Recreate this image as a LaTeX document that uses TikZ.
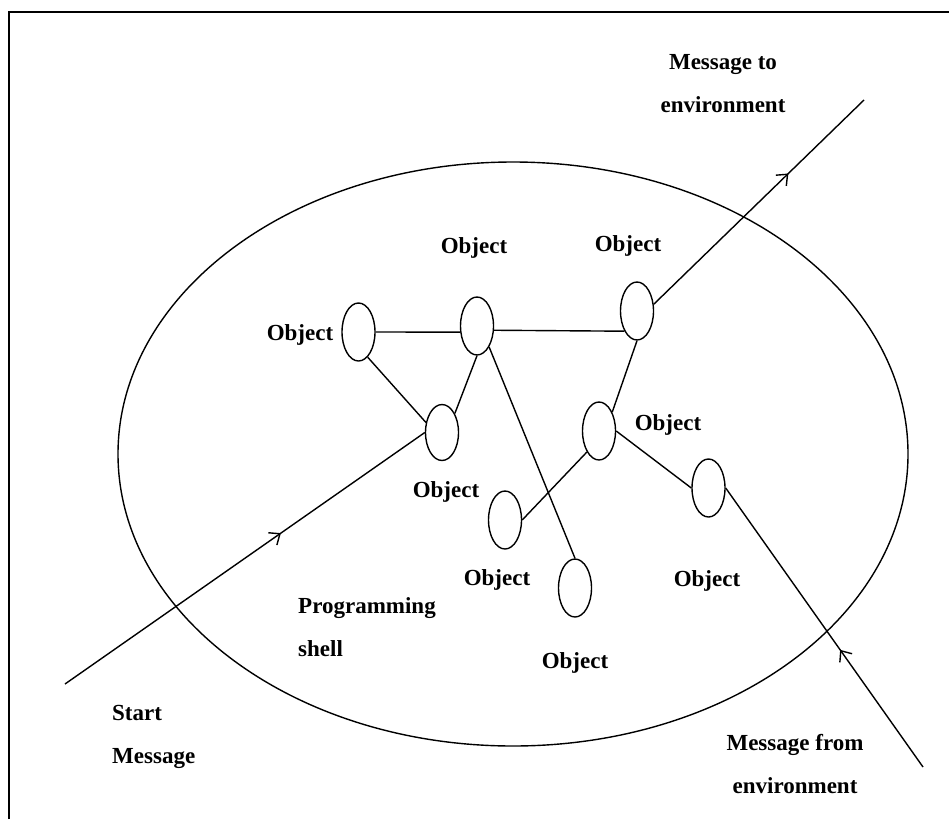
\documentclass[tikz,border=0pt]{standalone}
\usepackage{fontspec}
\setmainfont{Liberation Serif}
\usetikzlibrary{shapes.geometric,arrows.meta,decorations.markings}

\begin{document}
\begin{tikzpicture}[x=1pt,y=-1pt,
  wire/.style={line width=1.4pt, black},
  obj/.style={draw, ellipse, line width=1.4pt, minimum width=33pt,
    minimum height=58pt, inner sep=0pt},
  lbl/.style={font=\bfseries\fontsize{23}{43}\selectfont, inner sep=0pt},
  midarrow/.style={postaction={decorate},
    decoration={markings, mark=at position #1 with
      {\arrow{Straight Barb[length=9pt,width=15pt,line width=1.4pt]}}}},
]
\useasboundingbox (0,0) rectangle (949,819);

% frame (top and left edges)
\draw[line width=2pt] (9,819) -- (9,12) -- (949,12);

% programming shell
\node[draw, ellipse, line width=1.4pt, minimum width=790pt,
  minimum height=584pt, inner sep=0pt] (shell) at (513,454) {};

% objects
\node[obj] (o1) at (358.5,332) {};
\node[obj] (o2) at (477,326) {};
\node[obj, minimum height=56pt] (o3) at (442,432.5) {};
\node[obj] (o4) at (637,311) {};
\node[obj] (o5) at (599,431) {};
\node[obj] (o6) at (708.5,488) {};
\node[obj] (o7) at (505,520) {};
\node[obj] (o8) at (575,588) {};

% free ends of the message lines
\coordinate (startpt) at (65,684);
\coordinate (toenv) at (864,100);
\coordinate (fromenv) at (923,767);

% links between objects
\draw[wire] (o1.east) -- (o2.200);
\draw[wire] (o2.-14) -- (o4.238);
\draw[wire] (o1.-70) -- (o3.148);
\draw[wire] (o3.56) -- (o2.south);
\draw[wire] (o2.-60) -- (o8.north);
\draw[wire] (o4.south) -- (o5.55);
\draw[wire] (o5.240) -- (o7.east);
\draw[wire] (o5.east) -- (o6.west);

% messages
\draw[wire, midarrow=0.6] (startpt) -- (o3.west);
\draw[wire, midarrow=0.64] (o4.22) -- (toenv);
\draw[wire, midarrow=0.42] (fromenv) -- (o6.east);

% labels (single line: anchored on the baseline)
\node[lbl, anchor=base] (l1) at (300,340) {Object};
\node[lbl, anchor=base] (l2) at (474,253) {Object};
\node[lbl, anchor=base] (l3) at (628,251) {Object};
\node[lbl, anchor=base] (l4) at (446,497) {Object};
\node[lbl, anchor=base] (l5) at (668,430) {Object};
\node[lbl, anchor=base] (l6) at (497,585) {Object};
\node[lbl, anchor=base] (l7) at (707,586) {Object};
\node[lbl, anchor=base] (l8) at (575,668) {Object};

% two-line labels (anchored on the baseline of the last line)
\node[lbl, anchor=base, align=center] (tolbl) at (723,112) {Message to\\environment};
\node[lbl, anchor=base, align=center] (fromlbl) at (795,793) {Message from\\environment};
\node[lbl, anchor=base west, align=left] (startlbl) at (112,763) {Start\\Message};
\node[lbl, anchor=base west, align=left] (shelllbl) at (298,656) {Programming\\shell};
\end{tikzpicture}
\end{document}
